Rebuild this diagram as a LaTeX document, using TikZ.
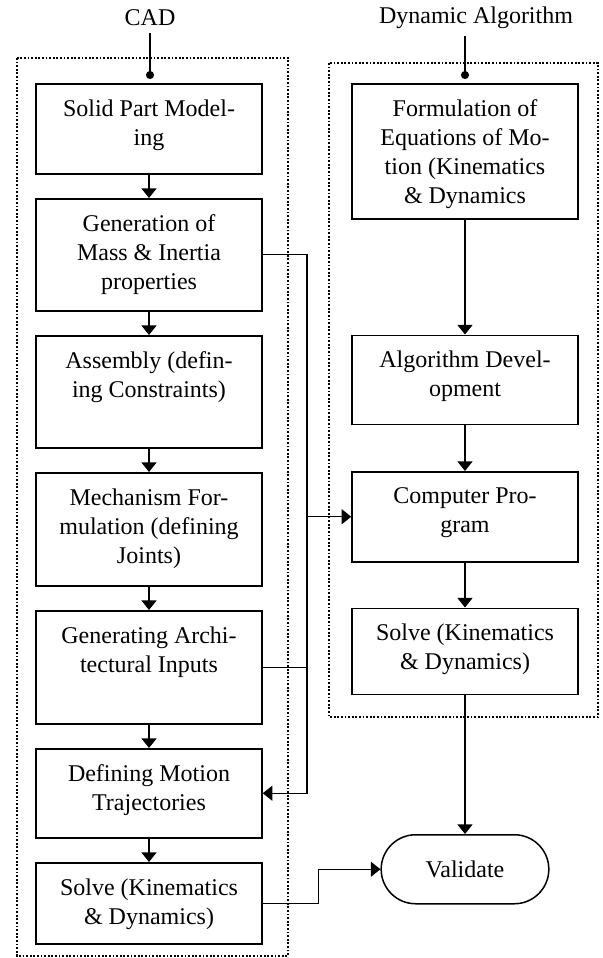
\documentclass[tikz,border=0pt]{standalone}
\usepackage{fontspec}
\setmainfont{Liberation Serif}
\usetikzlibrary{arrows.meta, positioning, shapes.misc}

\begin{document}
\begin{tikzpicture}[x=0.5pt, y=-0.5pt, node distance=11.75pt, line width=0.65pt,
    every node/.style={font=\fontsize{12}{14.5}\selectfont},
    blk/.style={draw, line width=0.75pt, minimum width=113pt, inner sep=0pt},
    lbl/.style={anchor=north, align=center, inner sep=0pt, yshift=-8pt},
    arr/.style={-{Triangle[width=7.5pt, length=4.8pt]}},
    frm/.style={line width=1.1pt, dash pattern=on 0.9pt off 0.9pt}]
    \useasboundingbox (0,0) rectangle (602,958);

    % Dotted frames
    \draw[frm] (17,58) rectangle (288,956);
    \draw[frm] (329,63) rectangle (598,717);

    % Titles
    \node (cad) at (150,18) {CAD};
    \node (dyn) at (476,18) {Dynamic Algorithm};

    % CAD column
    \node[blk, anchor=north, minimum height=45pt, label={[lbl]north:Solid Part Model-\\ing}] (solid) at (149,83) {};
    \node[blk, below=of solid, minimum height=56pt, label={[lbl]north:Generation of\\Mass \& Inertia\\properties}] (gen) {};
    \node[blk, below=of gen, minimum height=56pt, label={[lbl]north:Assembly (defin-\\ing Constraints)}] (asm) {};
    \node[blk, below=of asm, minimum height=56.5pt, label={[lbl]north:Mechanism For-\\mulation (defining\\Joints)}] (mech) {};
    \node[blk, below=of mech, minimum height=56.5pt, label={[lbl]north:Generating Archi-\\tectural Inputs}] (genin) {};
    \node[blk, below=of genin, minimum height=44.5pt, label={[lbl]north:Defining Motion\\Trajectories}] (defm) {};
    \node[blk, below=of defm, minimum height=40.5pt, label={[lbl]north:Solve (Kinematics\\\& Dynamics)}] (solvel) {};

    % Dynamic algorithm column
    \node[blk, anchor=north, minimum height=67.5pt, label={[lbl]north:Formulation of\\Equations of Mo-\\tion (Kinematics\\\& Dynamics}] (form) at (465,83) {};
    \node[blk, below=57.5pt of form, minimum height=44.5pt, label={[lbl]north:Algorithm Devel-\\opment}] (algo) {};
    \node[blk, below=23pt of algo, minimum height=45pt, label={[lbl]north:Computer Pro-\\gram}] (comp) {};
    \node[blk, below=22.5pt of comp, minimum height=43pt, label={[lbl]north:Solve (Kinematics\\\& Dynamics)}] (solver) {};

    \node[draw, rounded rectangle, line width=0.75pt, minimum width=90.5pt, minimum height=34.5pt,
        below=69.5pt of solver] (val) {Validate};

    % Connectors
    \draw[-{Circle[length=4pt]}, shorten >=2pt] (cad.south) -- (cad.south |- solid.north);
    \draw[-{Circle[length=4pt]}, shorten >=2pt] (form.north |- dyn.south) -- (form.north);

    \foreach \a/\b in {solid/gen, gen/asm, asm/mech, mech/genin, genin/defm, defm/solvel,
        form/algo, algo/comp, comp/solver, solver/val}
        \draw[arr] (\a.south) -- (\b.north);

    \coordinate (bus) at (307,0);
    \draw[arr] (gen.east) -- (gen.east -| bus) -- (defm.east -| bus) -- (defm.east);
    \draw (genin.east) -- (genin.east -| bus);
    \draw[arr] (comp.west -| bus) -- (comp.west);
    \draw[arr] (solvel.east) -- ++(56,0) |- (val.west);
\end{tikzpicture}
\end{document}
